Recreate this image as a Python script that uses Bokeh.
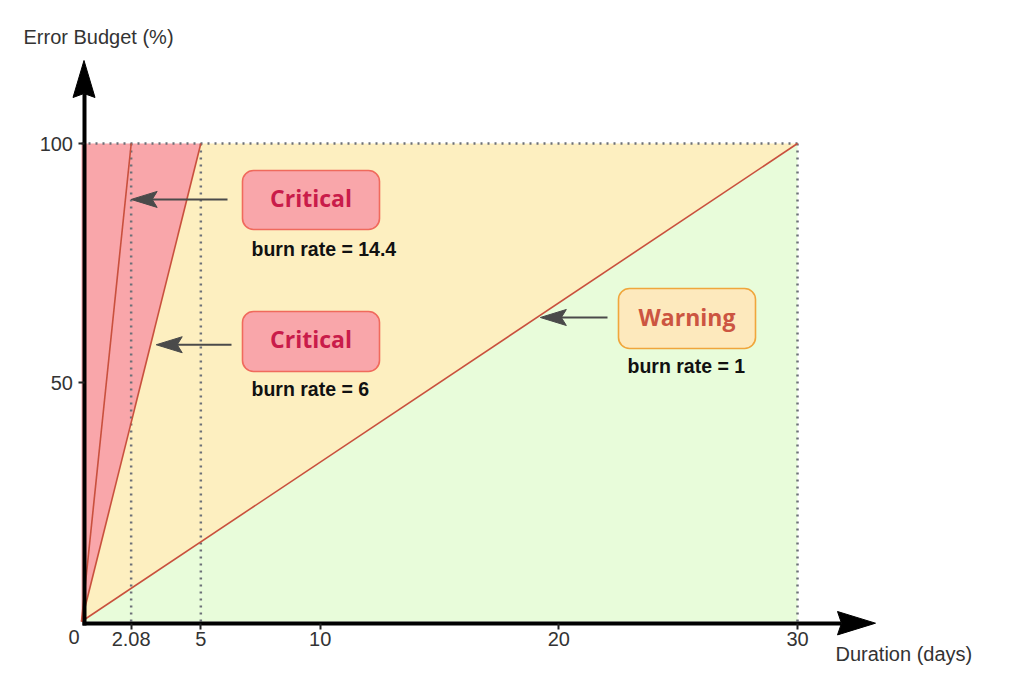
from bokeh.plotting import figure
from bokeh.models import Range1d, FixedTicker, BoxAnnotation, ColumnDataSource
from bokeh.embed import file_html
from bokeh.resources import INLINE
from bokeh.core.properties import value

# ---------------- data ----------------
WINDOW_DAYS = 30
BUDGET = 100
burn_rates = [14.4, 6, 1]
x_ticks = [2.08, 5, 10, 20, 30]
x_tick_labels = ["2.08", "5", "10", "20", "30"]
y_ticks = [50, 100]
y_tick_labels = ["50", "100"]
callout_titles = ["Critical", "Critical", "Warning"]
callout_notes = ["burn rate = 14.4", "burn rate = 6", "burn rate = 1"]
callout_levels = [88.3, 57.9, 63.6]   # budget (%) where each arrow points
x_label = "Duration (days)"
y_label = "Error Budget (%)"

# ---------------- layout helpers (pixel <-> data) ----------------
W, H = 1024, 686
X0, Y0 = 81.0, 621.0
SX = (797.0 - X0) / WINDOW_DAYS
SY = (621.0 - 143.0) / BUDGET


def dx(px):
    return (px - X0) / SX


def dy(py):
    return (Y0 - py) / SY


p = figure(width=W, height=H,
           x_range=Range1d(dx(0), dx(W)), y_range=Range1d(dy(H), dy(0)),
           output_backend="svg", toolbar_location=None, min_border=0)
p.outline_line_color = None
p.grid.visible = False
p.background_fill_color = "white"

RED = "#f9a6aa"
YELLOW = "#fdefc0"
GREEN = "#e8fcda"
LINE = "#c9503d"

x_end = [WINDOW_DAYS / r for r in burn_rates]

# regions
p.patches(xs=[[0, x_end[1], 0], [0, x_end[2], x_end[1]], [0, WINDOW_DAYS, WINDOW_DAYS]],
          ys=[[0, BUDGET, BUDGET], [0, BUDGET, BUDGET], [0, 0, BUDGET]],
          fill_color=[RED, YELLOW, GREEN], line_color=None)

# dotted guides
p.multi_line(xs=[[0, WINDOW_DAYS], [x_ticks[0]] * 2, [x_ticks[1]] * 2, [x_ticks[-1]] * 2],
             ys=[[BUDGET, BUDGET], [0, BUDGET], [0, BUDGET], [0, BUDGET]],
             line_color="#6c7078", line_width=2.5, line_dash="2 5")

# burn-rate lines
p.multi_line(xs=[[0, e] for e in x_end], ys=[[0, BUDGET] for _ in x_end],
             line_color=LINE, line_width=1.6)

# ---------------- axes ----------------
for ax in (p.xaxis, p.yaxis):
    ax.axis_line_width = 4
    ax.axis_line_color = "black"
    ax.major_tick_out = 6
    ax.major_tick_in = 0
    ax.major_tick_line_width = 2
    ax.major_tick_line_color = "#222222"
    ax.minor_tick_line_color = None
    ax.major_label_text_font = "Liberation Sans"
    ax.major_label_text_font_size = "20px"
    ax.major_label_text_color = "#333333"

p.xaxis.fixed_location = dy(622.7)
p.xaxis.bounds = (dx(81.5), dx(841))
p.xaxis.ticker = FixedTicker(ticks=x_ticks)
p.xaxis.major_label_overrides = dict(zip(x_ticks, x_tick_labels))
p.xaxis.major_label_standoff = 3

p.yaxis.fixed_location = dx(83.5)
p.yaxis.bounds = (dy(624.5), dy(93))
p.yaxis.ticker = FixedTicker(ticks=y_ticks)
p.yaxis.major_label_overrides = dict(zip(y_ticks, y_tick_labels))
p.yaxis.major_label_standoff = 5


def head(tip_px, tip_py, direction, length, half_w, notch):
    """arrow head polygon (pixel geometry -> data coords)"""
    if direction == "up":
        pts = [(tip_px, tip_py), (tip_px - half_w, tip_py + length),
               (tip_px, tip_py + length - notch), (tip_px + half_w, tip_py + length)]
    elif direction == "right":
        pts = [(tip_px, tip_py), (tip_px - length, tip_py - half_w),
               (tip_px - length + notch, tip_py), (tip_px - length, tip_py + half_w)]
    else:  # left
        pts = [(tip_px, tip_py), (tip_px + length, tip_py - half_w),
               (tip_px + length - notch, tip_py), (tip_px + length, tip_py + half_w)]
    return [dx(a) for a, _ in pts], [dy(b) for _, b in pts]


hx, hy = [], []
for h in (head(83.5, 60, "up", 37, 11, 4), head(875, 622.7, "right", 38, 11.7, 4)):
    hx.append(h[0])
    hy.append(h[1])
p.patches(xs=hx, ys=hy, fill_color="black", line_color="black", line_width=1)

# origin label and axis titles
p.text(x=[dx(73.5)], y=[dy(636)], text=["0"], text_align="center", text_baseline="middle",
       text_font=value("Liberation Sans"), text_font_size="20px", text_color="#333333")
p.text(x=[dx(23), dx(835)], y=[dy(36), dy(653)], text=[y_label, x_label],
       text_align="left", text_baseline="middle",
       text_font=value("Liberation Sans"), text_font_size="20px", text_color="#333333")

# ---------------- callouts ----------------
arrow_start_px = [227, 231, 607]
sx, sy, ax_, ay_ = [], [], [], []
for lvl, r, spx in zip(callout_levels, burn_rates, arrow_start_px):
    line_x = (WINDOW_DAYS * lvl / (BUDGET * r))
    tpx = X0 + 4 + line_x * (797.0 - X0 - 4) / WINDOW_DAYS + 2
    tpy = Y0 - lvl * SY
    sx.append([dx(spx), dx(tpx + 20)])
    sy.append([lvl, lvl])
    hxs, hys = head(tpx, tpy, "left", 26, 8, 5)
    ax_.append(hxs)
    ay_.append(hys)
p.multi_line(xs=sx, ys=sy, line_color="#4a4a4a", line_width=2)
p.patches(xs=ax_, ys=ay_, fill_color="#4a4a4a", line_color="#4a4a4a", line_width=1)

boxes = [(242, 379, 170, 229), (242, 379, 311, 371), (618, 755, 288, 348)]
box_fill = ["#f9a6aa", "#f9a6aa", "#fde9bd"]
box_line = ["#f06a5c", "#f06a5c", "#f0a63c"]
for (l, r_, t, b), fc, lc in zip(boxes, box_fill, box_line):
    p.add_layout(BoxAnnotation(left=dx(l), right=dx(r_), top=dy(t), bottom=dy(b),
                               fill_color=fc, fill_alpha=1.0, line_color=lc, line_alpha=1.0,
                               line_width=1.6, border_radius=11))

title_src = ColumnDataSource(dict(
    x=[dx(310.5), dx(310.5), dx(686.5)],
    y=[dy(197), dy(338), dy(316)],
    text=callout_titles,
    color=["#c91c4a", "#c91c4a", "#cc5541"],
))
p.text(x="x", y="y", text="text", source=title_src, text_color="color",
       text_align="center", text_baseline="middle", level="overlay",
       text_font=value("Open Sans"), text_font_style="bold", text_font_size="23px")

note_src = ColumnDataSource(dict(
    x=[dx(251), dx(251), dx(627)],
    y=[dy(248), dy(388), dy(365)],
    text=callout_notes,
))
p.text(x="x", y="y", text="text", source=note_src, text_color="#111111",
       text_align="left", text_baseline="middle", level="overlay",
       text_font=value("Liberation Sans"), text_font_style="bold", text_font_size="19.5px")

open("out.html", "w").write(file_html(p, INLINE))
